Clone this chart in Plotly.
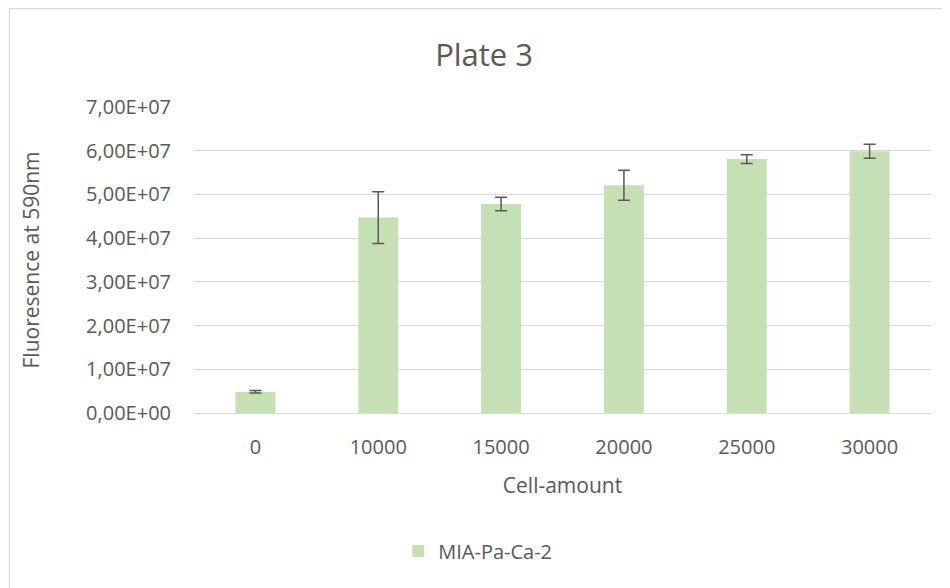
import plotly.graph_objects as go

categories = ["0", "10000", "15000", "20000", "25000", "30000"]
values = [4.85e6, 4.47e7, 4.78e7, 5.21e7, 5.81e7, 5.99e7]
errors = [0.3e6, 5.9e6, 1.55e6, 3.45e6, 1.0e6, 1.6e6]
series_name = "MIA-Pa-Ca-2"
ytick_vals = [0, 1e7, 2e7, 3e7, 4e7, 5e7, 6e7, 7e7]
ytick_text = ["0,00E+00", "1,00E+07", "2,00E+07", "3,00E+07", "4,00E+07",
              "5,00E+07", "6,00E+07", "7,00E+07"]

txt = "#595959"
font = "Open Sans"

# page offset of 8px (default body margin) is compensated in margins
W, H = 942, 580
L, R, T, B = 185.5, 18.5, 99, 175
PW, PH = W - L - R, H - T - B

fig = go.Figure()
fig.add_trace(go.Bar(
    x=categories, y=values, name=series_name,
    marker=dict(color="#C5E0B4", line=dict(width=0)),
    error_y=dict(type="data", array=errors, visible=True,
                 color="#595959", thickness=1.5, width=6),
    showlegend=True,
))

fig.update_layout(
    width=W, height=H,
    paper_bgcolor="white", plot_bgcolor="white",
    margin=dict(l=L, r=R, t=T, b=B),
    bargap=0.675,
    title=dict(text="Plate 3", x=(476 - L) / PW, xanchor="center", xref="paper",
               y=1 - 47 / H, yanchor="middle",
               font=dict(family=font, size=31, color=txt)),
    font=dict(family=font, color=txt, size=20),
    xaxis=dict(type="category", showgrid=False, showline=False, zeroline=False,
               ticks="", ticklabelstandoff=20,
               tickfont=dict(size=20, color=txt),
               title=dict(text="Cell-amount", font=dict(size=21, color=txt), standoff=19)),
    yaxis=dict(range=[0, 7e7], tickvals=ytick_vals, ticktext=ytick_text,
               showgrid=True, gridcolor="#D9D9D9", gridwidth=1.3,
               zeroline=True, zerolinecolor="#D9D9D9", zerolinewidth=1.3,
               showline=False, ticks="", ticklabelstandoff=22,
               tickfont=dict(size=20, color=txt),
               title=dict(text="Fluoresence at 590nm", font=dict(size=21, color=txt), standoff=40)),
    legend=dict(orientation="h", x=(390 - L) / PW, xanchor="left",
                y=(PH - 543 + T) / PH, yanchor="middle",
                font=dict(size=20, color=txt), bgcolor="rgba(0,0,0,0)"),
    shapes=[dict(type="rect", xref="paper", yref="paper",
                 x0=(0.6 - L) / PW, x1=(W + 20 - L) / PW,
                 y0=-(B + 20) / PH, y1=(PH + T - 0.6) / PH,
                 line=dict(color="#D9D9D9", width=1.2), fillcolor="rgba(0,0,0,0)", layer="below")],
)

fig.write_html("out.html")
